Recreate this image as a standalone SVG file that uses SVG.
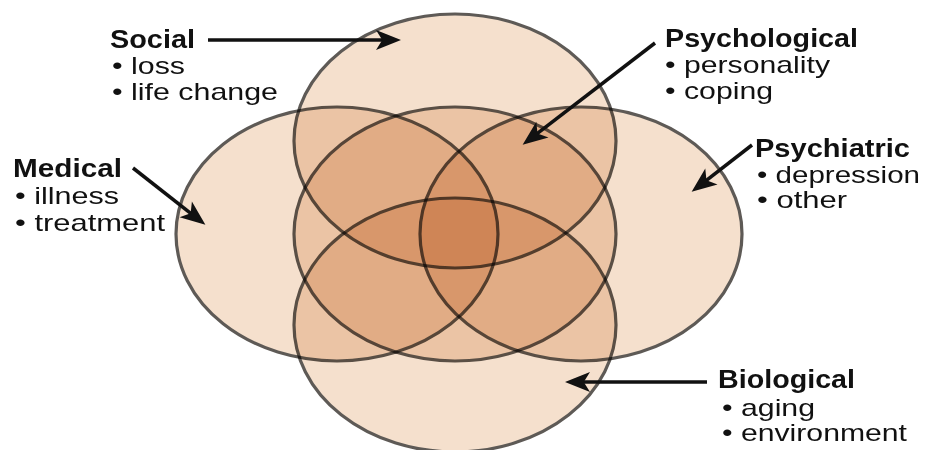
<svg xmlns="http://www.w3.org/2000/svg" width="925" height="450" viewBox="0 0 925 450">
  <defs>
    <style>
      .ring { fill: #f5e0cd; stroke: #5e5a56; stroke-width: 3.2; mix-blend-mode: multiply; }
      .hd { font-family: "Liberation Sans", Arial, sans-serif; font-weight: bold; font-size: 26px; fill: #111; }
      .it { font-family: "Liberation Sans", Arial, sans-serif; font-size: 24px; fill: #111; }
      .arrow { stroke: #111; stroke-width: 3.5; fill: none; marker-end: url(#head); }
    </style>
    <marker id="head" markerUnits="userSpaceOnUse" markerWidth="30" markerHeight="30" viewBox="-10 -10 24 20" refX="0" refY="0" orient="auto">
      <path d="M12,0 L-8,-8 L-3,0 L-8,8 Z" fill="#111"/>
    </marker>
  </defs>
  <rect width="925" height="450" fill="#ffffff"/>

  <g id="social">
    <ellipse class="ring" cx="455" cy="141" rx="161" ry="127"/>
    <text class="hd" x="110" y="48" textLength="85" lengthAdjust="spacingAndGlyphs">Social</text>
    <text class="it" x="112" y="74" textLength="73" lengthAdjust="spacingAndGlyphs">• loss</text>
    <text class="it" x="112" y="100" textLength="166" lengthAdjust="spacingAndGlyphs">• life change</text>
  </g>
  <g id="biological">
    <ellipse class="ring" cx="455" cy="325" rx="161" ry="127"/>
    <text class="hd" x="718" y="388" textLength="137" lengthAdjust="spacingAndGlyphs">Biological</text>
    <text class="it" x="722" y="416" textLength="93" lengthAdjust="spacingAndGlyphs">• aging</text>
    <text class="it" x="722" y="441" textLength="185" lengthAdjust="spacingAndGlyphs">• environment</text>
  </g>
  <g id="medical">
    <ellipse class="ring" cx="337" cy="234" rx="161" ry="127"/>
    <text class="hd" x="13" y="177" textLength="109" lengthAdjust="spacingAndGlyphs">Medical</text>
    <text class="it" x="15" y="204" textLength="104" lengthAdjust="spacingAndGlyphs">• illness</text>
    <text class="it" x="15" y="231" textLength="150" lengthAdjust="spacingAndGlyphs">• treatment</text>
  </g>
  <g id="psychiatric">
    <ellipse class="ring" cx="581" cy="234" rx="161" ry="127"/>
    <text class="hd" x="755" y="157" textLength="155" lengthAdjust="spacingAndGlyphs">Psychiatric</text>
    <text class="it" x="757" y="183" textLength="163" lengthAdjust="spacingAndGlyphs">• depression</text>
    <text class="it" x="757" y="208" textLength="90" lengthAdjust="spacingAndGlyphs">• other</text>
  </g>
  <g id="psychological">
    <ellipse class="ring" cx="455" cy="234" rx="161" ry="127"/>
    <text class="hd" x="665" y="47" textLength="193" lengthAdjust="spacingAndGlyphs">Psychological</text>
    <text class="it" x="665" y="73" textLength="165" lengthAdjust="spacingAndGlyphs">• personality</text>
    <text class="it" x="665" y="99" textLength="108" lengthAdjust="spacingAndGlyphs">• coping</text>
  </g>

  <g id="connectors">
    <line class="arrow" x1="208" y1="40" x2="386" y2="40"/>
    <line class="arrow" x1="133" y1="168" x2="193.6" y2="215.6"/>
    <line class="arrow" x1="655" y1="43" x2="534.5" y2="135.7"/>
    <line class="arrow" x1="752" y1="145" x2="703.5" y2="182.6"/>
    <line class="arrow" x1="707" y1="382" x2="580" y2="382"/>
  </g>
</svg>
